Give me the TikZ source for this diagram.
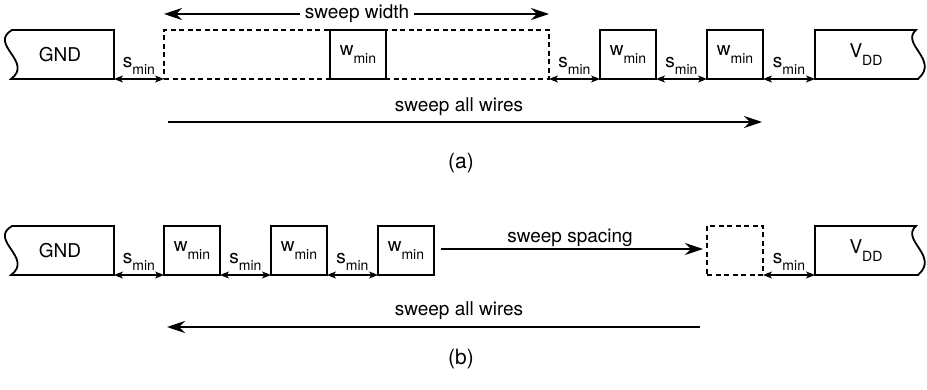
\documentclass[tikz,border=0pt]{standalone}
\usepackage{fontspec}
\setmainfont{TeX Gyre Heros}
\usetikzlibrary{arrows.meta}
\newcommand{\mysub}[2]{#1\raisebox{-0.42em}{\fontsize{14}{14}\selectfont #2}}
\tikzset{
  lbl/.style={font=\fontsize{19}{19}\selectfont, inner sep=0pt, outer sep=0pt},
  caplbl/.style={font=\fontsize{21}{21}\selectfont, inner sep=0pt, outer sep=0pt},
  wirebox/.style={draw, line width=1.8pt, minimum width=56pt, minimum height=49pt, inner sep=0pt, outer sep=0pt, font=\fontsize{19}{19}\selectfont},
  ghostbox/.style={wirebox, dash pattern=on 5pt off 3.5pt},
  railbox/.style={minimum height=49pt, inner sep=0pt, outer sep=0pt, font=\fontsize{19}{19}\selectfont},
  railline/.style={line width=1.8pt, line join=miter},
  sarr/.style={line width=1.1pt, {Stealth[length=9pt,width=7pt,inset=2.5pt]}-{Stealth[length=9pt,width=7pt,inset=2.5pt]}},
  bigarr/.style={line width=1.4pt, -{Stealth[length=18pt,width=12pt,inset=6pt]}},
  slbl/.style={lbl, anchor=south, yshift=4pt},
}
\begin{document}
\begin{tikzpicture}[x=1pt,y=-1pt]
\useasboundingbox (0,0) rectangle (927,390);
% ---------------- panel (a)
\node[railbox, minimum width=108pt] (gndA) at (60,54.5) {GND};
\draw[railline] (gndA.north east) -- (12,30) .. controls (-12,44) and (34,62) .. (11,79) -- (gndA.south east) -- cycle;
\node[ghostbox, minimum width=385pt] (dashA) at (356.5,54.5) {};
\node[wirebox, fill=white] (wA0) at (358,54.5) {\mysub{w}{min}};
\node[wirebox] (wA1) at (628,54.5) {\mysub{w}{min}};
\node[wirebox] (wA2) at (735,54.5) {\mysub{w}{min}};
\node[railbox, minimum width=102pt] (vddA) at (866,54.5) {\mysub{V}{DD}};
\draw[railline] (vddA.north west) -- (916,30) .. controls (900,44) and (940,60) .. (918,79) -- (vddA.south west) -- cycle;
\draw[sarr] (gndA.south east) -- (dashA.south west);
\draw[sarr] (dashA.south east) -- (wA1.south west);
\draw[sarr] (wA1.south east) -- (wA2.south west);
\draw[sarr] (wA2.south east) -- (vddA.south west);
\path (gndA.south east) -- (dashA.south west) node[slbl, midway] (sA1) {\mysub{s}{min}};
\path (dashA.south east) -- (wA1.south west) node[slbl, midway] (sA2) {\mysub{s}{min}};
\path (wA1.south east) -- (wA2.south west) node[slbl, midway] (sA3) {\mysub{s}{min}};
\path (wA2.south east) -- (vddA.south west) node[slbl, midway] (sA4) {\mysub{s}{min}};
\node[lbl, fill=white, inner xsep=5pt, inner ysep=2pt] (swlab) at (357,14) {sweep width};
\draw[bigarr] (swlab.west) -- (swlab.west -| dashA.west);
\draw[bigarr] (swlab.east) -- (swlab.east -| dashA.east);
\coordinate (allAL) at (168,122);
\coordinate (allAR) at (762,122);
\draw[bigarr] (allAL) -- (allAR);
\node[lbl] (allAlab) at (459,107) {sweep all wires};
\node[caplbl] (capA) at (461,163) {(a)};
% ---------------- panel (b)
\node[railbox, minimum width=108pt] (gndB) at (60,250.5) {GND};
\draw[railline] (gndB.north east) -- (12,226) .. controls (-12,240) and (34,258) .. (11,275) -- (gndB.south east) -- cycle;
\node[wirebox] (wB1) at (192,250.5) {\mysub{w}{min}};
\node[wirebox] (wB2) at (299,250.5) {\mysub{w}{min}};
\node[wirebox] (wB3) at (406,250.5) {\mysub{w}{min}};
\node[ghostbox] (ghB) at (735,250.5) {};
\node[railbox, minimum width=102pt] (vddB) at (866,250.5) {\mysub{V}{DD}};
\draw[railline] (vddB.north west) -- (916,226) .. controls (900,240) and (940,256) .. (918,275) -- (vddB.south west) -- cycle;
\draw[sarr] (gndB.south east) -- (wB1.south west);
\draw[sarr] (wB1.south east) -- (wB2.south west);
\draw[sarr] (wB2.south east) -- (wB3.south west);
\draw[sarr] (ghB.south east) -- (vddB.south west);
\path (gndB.south east) -- (wB1.south west) node[slbl, midway] (sB1) {\mysub{s}{min}};
\path (wB1.south east) -- (wB2.south west) node[slbl, midway] (sB2) {\mysub{s}{min}};
\path (wB2.south east) -- (wB3.south west) node[slbl, midway] (sB3) {\mysub{s}{min}};
\path (ghB.south east) -- (vddB.south west) node[slbl, midway] (sB4) {\mysub{s}{min}};
\draw[bigarr] ([xshift=7pt,yshift=1.5pt]wB3.east) -- ([xshift=-4pt,yshift=1.5pt]ghB.west);
\node[lbl] (spclab) at (570,238) {sweep spacing};
\coordinate (allBR) at (700,327);
\coordinate (allBL) at (167,327);
\draw[bigarr] (allBR) -- (allBL);
\node[lbl] (allBlab) at (459,311) {sweep all wires};
\node[caplbl] (capB) at (461,359) {(b)};
\end{tikzpicture}
\end{document}
